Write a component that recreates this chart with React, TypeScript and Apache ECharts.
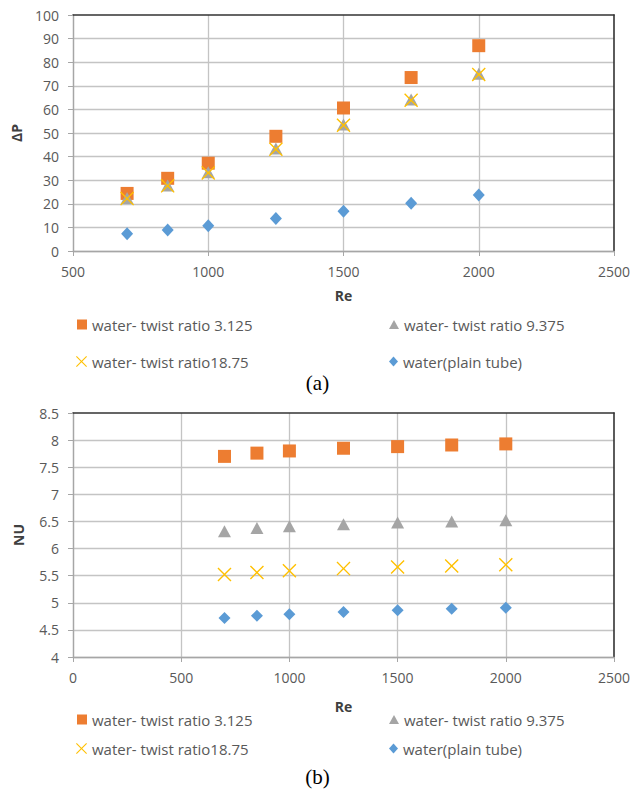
import React, { useEffect, useRef } from 'react';
import * as echarts from 'echarts';

const reValues = [700, 850, 1000, 1250, 1500, 1750, 2000];

const dpTwist3125 = [24.4, 30.8, 37.2, 48.6, 60.6, 73.5, 87.0];
const dpTwist9375 = [22.5, 27.8, 33.4, 43.4, 53.6, 64.2, 75.1];
const dpTwist1875 = [22.2, 27.6, 33.1, 43.1, 53.3, 63.9, 74.8];
const dpPlain = [7.3, 8.9, 10.7, 13.8, 16.8, 20.2, 23.7];

const nuTwist3125 = [7.7, 7.76, 7.8, 7.85, 7.88, 7.91, 7.93];
const nuTwist9375 = [6.32, 6.38, 6.41, 6.45, 6.48, 6.5, 6.52];
const nuTwist1875 = [5.52, 5.56, 5.59, 5.63, 5.66, 5.68, 5.7];
const nuPlain = [4.72, 4.76, 4.79, 4.83, 4.86, 4.89, 4.91];

const seriesNames = [
  'water- twist ratio 3.125',
  'water- twist ratio 9.375',
  'water- twist ratio18.75',
  'water(plain tube)',
];
const seriesColors = ['#ED7D31', '#A5A5A5', '#FFC000', '#5B9BD5'];

const X_PATH =
  'path://M0,7L7,0L50,43L93,0L100,7L57,50L100,93L93,100L50,57L7,100L0,93L43,50Z';
const seriesSymbols = ['rect', 'triangle', X_PATH, 'diamond'];

const FONT = 'Open Sans';
const LABEL_COLOR = '#595959';

function pairs(values: number[]) {
  return reValues.map((r, i) => [r, values[i]]);
}

export default function App() {
  const ref = useRef<HTMLDivElement>(null);

  useEffect(() => {
    document.body.style.margin = '0';
    if (!ref.current) return;
    const chart = echarts.init(ref.current, undefined, { renderer: 'svg' });

    const dpSets = [dpTwist3125, dpTwist9375, dpTwist1875, dpPlain];
    const nuSets = [nuTwist3125, nuTwist9375, nuTwist1875, nuPlain];
    const topSizes: any[] = [13, [13, 12], 14, [12, 13]];
    const botSizes: any[] = [13, [13, 12], 14, [12, 12]];

    const series: any[] = [];
    dpSets.forEach((d, i) => {
      series.push({
        type: 'scatter',
        name: seriesNames[i],
        xAxisIndex: 0,
        yAxisIndex: 0,
        data: pairs(d),
        symbol: seriesSymbols[i],
        symbolSize: topSizes[i],
        itemStyle: { color: seriesColors[i], opacity: 1 },
        z: 2 + i,
      });
    });
    nuSets.forEach((d, i) => {
      series.push({
        type: 'scatter',
        name: seriesNames[i],
        xAxisIndex: 1,
        yAxisIndex: 1,
        data: pairs(d),
        symbol: seriesSymbols[i],
        symbolSize: botSizes[i],
        itemStyle: { color: seriesColors[i], opacity: 1 },
        z: 2 + i,
      });
    });

    const legendIcons = ['rect', 'triangle', X_PATH, 'diamond'];
    const legendSizes = [
      [10, 10],
      [10, 9],
      [11, 11],
      [9, 10],
    ];
    const colLeft = [72, 384, 71, 384];
    const topRows = [312, 312, 349, 349];
    const botRows = [707, 707, 736, 736];
    const legends: any[] = [];
    [topRows, botRows].forEach((rows) => {
      seriesNames.forEach((n, i) => {
        legends.push({
          left: colLeft[i],
          top: rows[i],
          orient: 'horizontal',
          itemWidth: legendSizes[i][0],
          itemHeight: legendSizes[i][1],
          selectedMode: false,
          data: [{ name: n, icon: legendIcons[i] }],
          textStyle: { fontFamily: FONT, fontSize: 15, color: LABEL_COLOR },
        });
      });
    });

    const axisLine = { show: true, lineStyle: { color: '#A6A6A6', width: 1.3 } };
    const frameLine = { show: true, onZero: false, lineStyle: { color: '#333333', width: 1.6 } };
    const splitLine = {
      show: true,
      showMaxLine: false,
      lineStyle: { color: '#C4C4C4', width: 1.3 },
    };
    const axisTick = { show: true, length: 5, lineStyle: { color: '#A6A6A6', width: 1 } };
    const labelStyle = {
      fontFamily: FONT,
      fontSize: 14,
      color: LABEL_COLOR,
      formatter: (v: number) => String(v),
    };
    const nameStyle = { fontFamily: FONT, fontSize: 14, fontWeight: 'bold', color: '#404040' };

    const frameX = (gridIndex: number, min: number, max: number) => ({
      type: 'value',
      gridIndex,
      position: 'top',
      min,
      max,
      axisLine: frameLine,
      axisTick: { show: false },
      axisLabel: { show: false },
      splitLine: { show: false },
    });
    const frameY = (gridIndex: number, min: number, max: number) => ({
      type: 'value',
      gridIndex,
      position: 'right',
      min,
      max,
      axisLine: frameLine,
      axisTick: { show: false },
      axisLabel: { show: false },
      splitLine: { show: false },
    });

    chart.setOption({
      animation: false,
      backgroundColor: '#ffffff',
      grid: [
        { left: 73, top: 15, width: 541, height: 236 },
        { left: 73, top: 413, width: 541, height: 244 },
      ],
      xAxis: [
        {
          type: 'value',
          gridIndex: 0,
          min: 500,
          max: 2500,
          interval: 500,
          name: 'Re',
          nameLocation: 'middle',
          nameGap: 37,
          nameTextStyle: nameStyle,
          axisLine,
          axisTick,
          splitLine,
          axisLabel: { ...labelStyle, margin: 13 },
        },
        {
          type: 'value',
          gridIndex: 1,
          min: 0,
          max: 2500,
          interval: 500,
          name: 'Re',
          nameLocation: 'middle',
          nameGap: 42,
          nameTextStyle: nameStyle,
          axisLine,
          axisTick,
          splitLine,
          axisLabel: { ...labelStyle, margin: 13 },
        },
        frameX(0, 500, 2500),
        frameX(1, 0, 2500),
      ],
      yAxis: [
        {
          type: 'value',
          gridIndex: 0,
          min: 0,
          max: 100,
          interval: 10,
          name: 'ΔP',
          nameLocation: 'middle',
          nameGap: 50,
          nameRotate: 90,
          nameTextStyle: nameStyle,
          axisLine,
          axisTick,
          splitLine,
          axisLabel: { ...labelStyle, margin: 14 },
        },
        {
          type: 'value',
          gridIndex: 1,
          min: 4,
          max: 8.5,
          interval: 0.5,
          name: 'NU',
          nameLocation: 'middle',
          nameGap: 48,
          nameRotate: 90,
          nameTextStyle: nameStyle,
          axisLine,
          axisTick,
          splitLine,
          axisLabel: { ...labelStyle, margin: 14 },
        },
        frameY(0, 0, 100),
        frameY(1, 4, 8.5),
      ],
      legend: legends,
      series,
      graphic: [
        {
          type: 'text',
          left: 'center',
          top: 372,
          style: { text: '(a)', fontFamily: 'Liberation Serif', fontSize: 21, fill: '#000' },
        },
        {
          type: 'text',
          left: 'center',
          top: 766,
          style: { text: '(b)', fontFamily: 'Liberation Serif', fontSize: 21, fill: '#000' },
        },
      ],
    });

    return () => {
      chart.dispose();
    };
  }, []);

  return <div ref={ref} style={{ width: 635, height: 797 }} />;
}
